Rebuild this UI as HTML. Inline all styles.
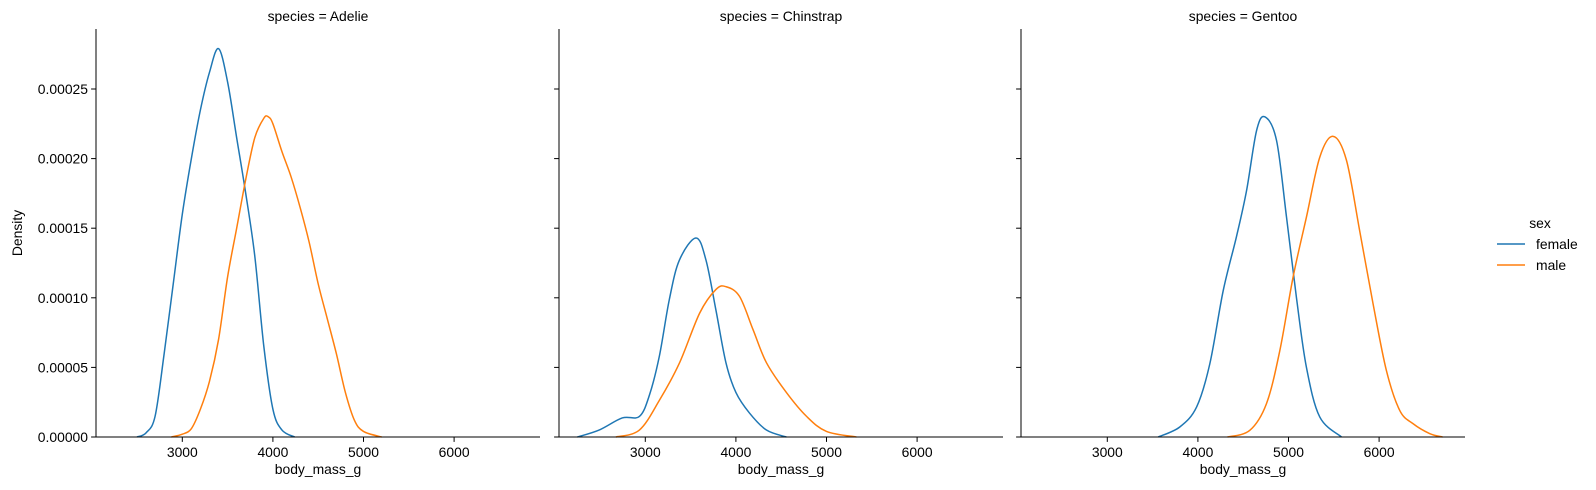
<!DOCTYPE html>
<html><head><meta charset="utf-8"><style>
body{margin:0;background:#fff;}
svg{display:block;font-family:"Liberation Sans","DejaVu Sans",sans-serif;}
</style></head><body>
<svg id="chart" width="1596" height="490" viewBox="0 0 1596 490" xmlns="http://www.w3.org/2000/svg"></svg>
<script>
const species = ["Adelie","Chinstrap","Gentoo"];
const sexes = ["female","male"];
const xTicks = [3000,4000,5000,6000];
const yTicks = [0,0.00005,0.0001,0.00015,0.0002,0.00025];
const yTickLabels = ["0.00000","0.00005","0.00010","0.00015","0.00020","0.00025"];
const adelieFemaleX = [2500,2600,2700,2800,2900,3000,3100,3200,3300,3400,3500,3600,3700,3800,3900,4000,4100,4240];
const adelieFemaleY = [0,0.000003,0.000015,0.00006,0.00011,0.00016,0.0002,0.000235,0.000262,0.000279,0.000255,0.000215,0.000175,0.00013,0.000065,0.00002,0.000005,0];
const adelieMaleX = [2880,3000,3100,3200,3300,3400,3500,3600,3700,3800,3900,3950,4000,4100,4200,4300,4400,4500,4600,4700,4800,4900,5000,5200];
const adelieMaleY = [0,0.000002,0.000006,0.00002,0.00004,0.00007,0.000115,0.00015,0.000185,0.000215,0.000229,0.00023,0.000225,0.000205,0.000187,0.000165,0.00014,0.00011,0.000085,0.00006,0.000032,0.000012,0.000004,0];
const chinFemaleX = [2250,2490,2745,2935,3045,3155,3265,3376,3560,3670,3780,3890,4000,4150,4337,4557];
const chinFemaleY = [0,0.000005,0.0000137,0.0000148,0.00003,0.000058,0.0000987,0.000127,0.000143,0.000127,0.000091,0.0000534,0.000032,0.0000172,0.000005,0];
const chinMaleX = [2675,2935,3155,3376,3600,3780,3890,4040,4190,4337,4557,4780,5000,5330];
const chinMaleY = [0,0.000005,0.0000263,0.000053,0.000089,0.000106,0.000108,0.000101,0.000077,0.0000534,0.000032,0.0000148,0.000004,0];
const gentooFemaleX = [3562,3800,3986,4132,4279,4426,4537,4647,4739,4868,4978,5088,5198,5345,5585];
const gentooFemaleY = [0,0.0000072,0.0000216,0.0000527,0.000105,0.000144,0.000177,0.00022,0.00023,0.000213,0.000158,0.0001,0.00005,0.0000144,0];
const gentooMaleX = [4327,4573,4757,4904,5051,5198,5345,5492,5639,5786,5933,6080,6227,6374,6560,6700];
const gentooMaleY = [0,0.0000048,0.000024,0.000062,0.000115,0.000158,0.000201,0.000216,0.000199,0.000148,0.0000958,0.0000479,0.0000192,0.0000096,0.0000024,0];
const seriesX = [[adelieFemaleX,adelieMaleX],[chinFemaleX,chinMaleX],[gentooFemaleX,gentooMaleX]];
const seriesY = [[adelieFemaleY,adelieMaleY],[chinFemaleY,chinMaleY],[gentooFemaleY,gentooMaleY]];
const colors = ["#1f77b4","#ff7f0e"];

const NS="http://www.w3.org/2000/svg";
const svg=document.getElementById('chart');
const panelLeft=[96,559,1021], panelW=444, plotTop=29, plotBottom=437;
function xScale(p,v){return panelLeft[p]+86.3+(v-3000)*0.0906;}
function yScale(v){return plotBottom-(v/0.00005)*69.6;}
function mk(tag,attrs,parent){const e=document.createElementNS(NS,tag);for(const k in attrs)e.setAttribute(k,attrs[k]);(parent||svg).appendChild(e);return e;}
function txt(s,attrs,parent){const e=mk('text',attrs,parent);e.textContent=s;return e;}
function pathFrom(pts){
  let d="M"+pts[0][0]+","+pts[0][1];
  for(let i=0;i<pts.length-1;i++){
    const p0=pts[Math.max(0,i-1)],p1=pts[i],p2=pts[i+1],p3=pts[Math.min(pts.length-1,i+2)];
    const c1x=p1[0]+(p2[0]-p0[0])/6,c1y=p1[1]+(p2[1]-p0[1])/6;
    const c2x=p2[0]-(p3[0]-p1[0])/6,c2y=p2[1]-(p3[1]-p1[1])/6;
    d+=` C${c1x},${Math.min(plotBottom,c1y)} ${c2x},${Math.min(plotBottom,c2y)} ${p2[0]},${p2[1]}`;
  }
  return d;
}
species.forEach((sp,p)=>{
  const g=mk('g',{});
  
  
  const L=panelLeft[p];
  txt('species = '+sp,{x:L+panelW/2,y:21,'text-anchor':'middle','font-size':'13.9',fill:'#000',},g);
  for(let s=0;s<2;s++){
    const pts=seriesX[p][s].map((v,i)=>[xScale(p,v),yScale(seriesY[p][s][i])]);
    const path=mk('path',{d:pathFrom(pts),fill:'none',stroke:colors[s],'stroke-width':'1.5'},g);
    
    
  }
  mk('line',{x1:L,y1:plotTop,x2:L,y2:plotBottom,stroke:'#000','stroke-width':'1',},g);
  mk('line',{x1:L,y1:plotBottom,x2:L+panelW,y2:plotBottom,stroke:'#000','stroke-width':'1',},g);
  xTicks.forEach(t=>{
    const x=xScale(p,t);
    const tk=mk('line',{x1:x,y1:plotBottom,x2:x,y2:plotBottom+4.9,stroke:'#000','stroke-width':'1'},g);
    
    
    const lb=txt(String(t),{x:x,y:plotBottom+20,'text-anchor':'middle','font-size':'13.9',fill:'#000'},g);
    
    
  });
  yTicks.forEach((t,i)=>{
    const y=yScale(t);
    const tk=mk('line',{x1:L-4.9,y1:y,x2:L,y2:y,stroke:'#000','stroke-width':'1'},g);
    
    
    if(p===0){
      const lb=txt(yTickLabels[i],{x:L-8,y:y+5,'text-anchor':'end','font-size':'13.9',fill:'#000'},g);
      
      
    }
  });
  txt('body_mass_g',{x:L+panelW/2,y:474,'text-anchor':'middle','font-size':'13.9',fill:'#000',},g);
});
txt('Density',{x:0,y:0,transform:'translate(22,233) rotate(-90)','text-anchor':'middle','font-size':'13.9',fill:'#000',});
const lg=mk('g',{});
txt('sex',{x:1540,y:228,'text-anchor':'middle','font-size':'13.9',fill:'#000',},lg);
sexes.forEach((s,i)=>{
  const y=244+i*21;
  const e=mk('g',{},lg);
  
  
  mk('line',{x1:1497,y1:y,x2:1525,y2:y,stroke:colors[i],'stroke-width':'1.5'},e);
  txt(s,{x:1536,y:y+5,'font-size':'13.9',fill:'#000'},e);
});
</script>
</body></html>
